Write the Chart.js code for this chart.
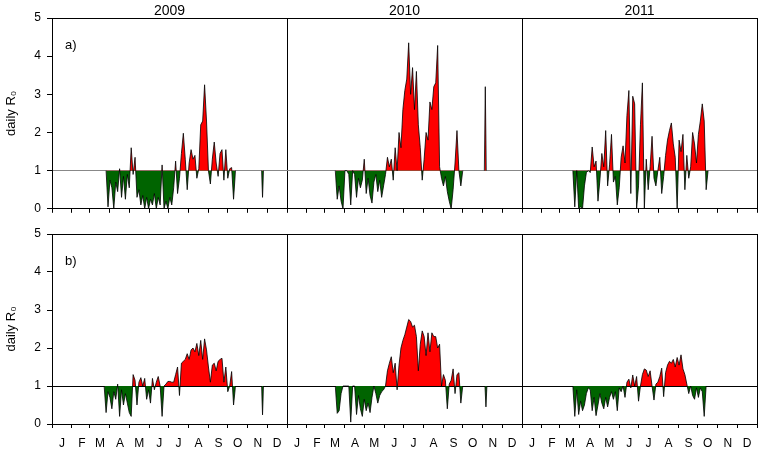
<!DOCTYPE html>
<html>
<head>
<meta charset="utf-8">
<script src="https://cdn.jsdelivr.net/npm/chart.js@4.4.0/dist/chart.umd.min.js"></script>
<style>
    html, body { margin: 0; padding: 0; background: #fff; }
    #wrap { position: relative; width: 761px; height: 450px; }
    .panel { position: absolute; left: 0; width: 761px; }
    #pa { top: 0; }
    #pb { top: 216px; }
</style>
</head>
<body>
<div id="wrap">
    <div class="panel" id="pa"><canvas id="chart-a" width="761" height="222"></canvas></div>
    <div class="panel" id="pb"><canvas id="chart-b" width="761" height="234"></canvas></div>
</div>
<script>
const years = ['2009', '2010', '2011'];
const monthLetters = ['J', 'F', 'M', 'A', 'M', 'J', 'J', 'A', 'S', 'O', 'N', 'D'];
const monthStarts = [0, 31, 59, 90, 120, 151, 181, 212, 243, 273, 304, 334];
const yearLength = 365;
const yTicks = [0, 1, 2, 3, 4, 5];
const step = 3; // one value every 3 days

// panel a) daily R0, first day of year of each season and its values
const a2009Start = 84;
const a2009 = [1.0, 0.05, 0.75, 0.55, 0.0, 0.7, 0.45, 1.05, 0.3, 0.85, 0.25, 0.9, 0.55, 1.6, 0.9, 1.35, 0.3, 0.5, 0.1, 0.35,
    0.0, 0.3, 0.0, 0.25, 0.1, 0.4, 0.0, 0.3, 0.1, 1.15, 0.0, 0.2, 0.0, 0.3, 0.1, 0.55, 1.25, 0.4, 0.8, 1.45,
    1.98, 1.3, 0.5, 1.2, 1.55, 1.3, 1.4, 0.8, 1.05, 2.2, 2.3, 3.25, 2.3, 1.0, 0.65, 1.3, 1.75, 1.2, 0.85, 1.45,
    1.55, 0.75, 1.55, 0.8, 1.05, 1.08, 0.25, 1.0];
const a2010Start = 75;
const a2010 = [1.0, 0.25, 0.6, 0.2, 0.0, 1.0, 1.0, 0.9, 0.1, 1.0, 0.9, 0.3, 0.8, 0.55, 0.75, 1.3, 0.4, 0.8, 0.35, 0.15,
    0.7, 0.9, 0.45, 0.75, 0.3, 0.6, 0.9, 1.35, 1.1, 1.3, 0.75, 1.6, 1.0, 2.0, 1.6, 2.6, 3.1, 3.4, 4.35, 3.0,
    3.7, 2.6, 3.6, 2.2, 1.6, 0.75, 1.3, 2.0, 1.8, 2.8, 2.6, 3.2, 3.3, 4.28, 1.1, 0.8, 0.6, 0.85, 0.45, 0.2,
    0.0, 0.5, 1.2, 2.05, 1.0, 0.6, 1.0];
const a2011Start = 79;
const a2011 = [1.0, 0.05, 1.0, 0.0, 0.05, 0.0, 0.6, 0.95, 1.0, 0.95, 1.62, 1.1, 1.25, 0.2, 0.75, 1.45, 1.1, 2.05, 0.6, 1.15,
    1.95, 0.7, 0.85, 0.1, 0.55, 1.35, 1.65, 1.2, 2.45, 3.1, 0.4, 2.95, 2.75, 0.0, 0.6, 2.2, 3.3, 0.0, 1.3, 0.5,
    1.1, 1.9, 0.8, 0.6, 1.0, 1.35, 0.4, 0.85, 1.4, 1.8, 2.05, 2.25, 1.7, 1.35, 0.0, 1.8, 1.5, 1.95, 0.5, 1.4,
    0.8, 1.1, 2.0, 1.7, 1.2, 1.95, 2.3, 2.75, 2.3, 0.5, 1.0];
// isolated days: [year index, day of year, value]
const aSingles = [[0, 327, 0.3], [1, 308, 3.2]];

// panel b)
const b2009Start = 81;
const b2009 = [1.0, 0.3, 0.85, 0.7, 0.4, 0.85, 0.65, 1.05, 0.2, 0.9, 0.5, 0.8, 0.55, 0.3, 0.2, 1.3, 1.15, 0.5, 1.1, 1.22,
    1.0, 1.2, 0.65, 0.9, 0.55, 1.2, 0.9, 1.1, 1.25, 1.0, 0.2, 1.0, 1.05, 1.12, 1.12, 1.1, 1.1, 1.3, 1.5, 0.75,
    1.6, 1.65, 1.7, 1.85, 1.7, 1.95, 2.0, 1.9, 2.12, 1.8, 2.2, 1.7, 2.24, 1.95, 1.5, 1.1, 1.55, 1.6, 1.4, 1.65,
    1.7, 1.73, 1.1, 1.5, 0.85, 1.0, 1.38, 0.5, 1.0];
const b2010Start = 75;
const b2010 = [1.0, 0.28, 0.35, 0.8, 1.0, 1.0, 1.0, 1.0, 0.05, 1.0, 1.0, 0.25, 0.75, 0.4, 0.2, 0.65, 0.35, 0.55, 0.3, 0.7,
    1.0, 0.8, 0.55, 0.75, 0.85, 0.9, 1.0, 1.4, 1.6, 1.77, 1.35, 1.6, 0.9, 1.55, 2.0, 2.2, 2.35, 2.55, 2.75, 2.7,
    2.55, 2.6, 2.3, 1.4, 2.1, 2.45, 2.3, 1.8, 2.4, 1.9, 2.4, 2.3, 2.3, 2.0, 2.1, 1.0, 1.3, 1.15, 0.4, 1.05,
    1.15, 1.45, 0.8, 1.3, 1.35, 0.55, 1.0];
const b2011Start = 79;
const b2011 = [1.0, 0.2, 0.9, 0.25, 0.6, 0.35, 0.5, 0.8, 0.95, 0.9, 0.35, 0.7, 0.22, 0.5, 0.8, 0.55, 0.4, 0.7, 0.45, 0.7,
    0.85, 0.65, 0.85, 0.35, 0.95, 0.85, 1.0, 0.7, 1.1, 1.18, 0.95, 1.29, 1.0, 1.25, 0.6, 1.0, 1.3, 1.45, 1.42, 1.25,
    1.4, 1.0, 0.63, 1.05, 1.1, 1.25, 1.47, 0.72, 1.35, 1.55, 1.65, 1.6, 1.7, 1.5, 1.75, 1.55, 1.82, 1.45, 1.3, 1.05,
    0.8, 1.0, 0.75, 0.65, 0.95, 0.7, 0.95, 0.85, 0.2, 1.0];
const bSingles = [[0, 327, 0.24], [1, 309, 0.45]];

const panelLabels = ['a)', 'b)'];
const yTitle = 'daily R\u2080';

Chart.defaults.font.family = '"Liberation Sans", Arial, Helvetica, sans-serif';
Chart.defaults.color = '#000';

function seasonPoints(yearIdx, start, values) {
    return values.map((v, i) => ({ x: yearIdx * yearLength + start + i * step, y: v }));
}

function singlePoints(single) {
    const x = single[0] * yearLength + single[1];
    return [{ x: x - 1.5, y: 1 }, { x: x, y: single[2] }, { x: x + 1.5, y: 1 }];
}

function makeDataset(points) {
    return {
        data: points,
        borderColor: '#000',
        borderWidth: 0.8,
        pointRadius: 0,
        tension: 0,
        fill: { target: { value: 1 }, above: '#ff0000', below: '#006400' }
    };
}

const panelLabelPlugin = {
    id: 'panelLabel',
    afterDraw(chart, args, opts) {
        const { ctx, chartArea } = chart;
        ctx.save();
        ctx.font = '13px "Liberation Sans", Arial, sans-serif';
        ctx.fillStyle = '#000';
        ctx.textBaseline = 'middle';
        ctx.fillText(opts.text, chartArea.left + 13, chartArea.top + 27);
        ctx.restore();
    }
};

function monthTicks(scale) {
    const ticks = [];
    years.forEach((y, yi) => {
        monthStarts.forEach(d => ticks.push({ value: yi * yearLength + d }));
    });
    ticks.push({ value: years.length * yearLength });
    scale.ticks = ticks;
}

function buildChart(canvasId, seasons, singles, label, showTop, showMonths, baseColor) {
    const datasets = seasons.map(s => makeDataset(seasonPoints(s[0], s[1], s[2])))
        .concat(singles.map(s => makeDataset(singlePoints(s))));

    const scales = {
        x: {
            type: 'linear',
            min: 0,
            max: years.length * yearLength,
            afterBuildTicks: monthTicks,
            afterFit: scale => {
                scale.height = showMonths ? 26 : 8;
                scale.paddingLeft = 0;
                scale.paddingRight = 4;
            },
            border: { color: '#000', width: 1 },
            grid: {
                color: ctx => (ctx.tick && ctx.tick.value % yearLength === 0) ? '#000' : 'rgba(0,0,0,0)',
                tickColor: '#000',
                tickLength: 4,
                lineWidth: 1
            },
            ticks: {
                display: showMonths,
                autoSkip: false,
                maxRotation: 0,
                minRotation: 0,
                padding: 8,
                labelOffset: 10,
                font: { size: 12 },
                callback: function (value) {
                    const d = value % yearLength;
                    if (value >= years.length * yearLength) return '';
                    return monthLetters[monthStarts.indexOf(d)];
                }
            }
        },
        y: {
            min: 0,
            max: 5,
            afterBuildTicks: scale => { scale.ticks = yTicks.map(v => ({ value: v })); },
            afterFit: scale => { scale.width = 52; },
            border: { color: '#000', width: 1 },
            grid: {
                color: ctx => {
                    if (!ctx.tick) return 'rgba(0,0,0,0)';
                    if (ctx.tick.value === 5) return '#000';
                    if (ctx.tick.value === 1) return baseColor;
                    return 'rgba(0,0,0,0)';
                },
                tickColor: '#000',
                tickLength: 5
            },
            ticks: { padding: 6, font: { size: 12 } },
            title: { display: true, text: yTitle, font: { size: 13 }, padding: { top: 4, bottom: 0 } }
        }
    };

    if (showTop) {
        scales.x2 = {
            type: 'linear',
            position: 'top',
            min: 0,
            max: years.length * yearLength,
            afterBuildTicks: scale => {
                scale.ticks = years.map((y, i) => ({ value: i * yearLength + yearLength / 2 }));
            },
            afterFit: scale => {
                scale.height = 18;
                scale.paddingLeft = 0;
                scale.paddingRight = 4;
            },
            border: { display: false },
            grid: { display: false, drawTicks: false },
            ticks: {
                autoSkip: false,
                maxRotation: 0,
                padding: 0,
                font: { size: 14, lineHeight: 1.0 },
                callback: (value, index) => years[index]
            }
        };
    }

    return new Chart(document.getElementById(canvasId).getContext('2d'), {
        type: 'line',
        data: { datasets: datasets },
        options: {
            responsive: false,
            animation: false,
            layout: { padding: { top: showTop ? 0 : 18, right: 0, left: 0, bottom: 0 } },
            scales: scales,
            plugins: {
                legend: { display: false },
                tooltip: { enabled: false },
                panelLabel: { text: label }
            }
        },
        plugins: [panelLabelPlugin]
    });
}

buildChart('chart-a',
    [[0, a2009Start, a2009], [1, a2010Start, a2010], [2, a2011Start, a2011]],
    aSingles, panelLabels[0], true, false, '#888');

buildChart('chart-b',
    [[0, b2009Start, b2009], [1, b2010Start, b2010], [2, b2011Start, b2011]],
    bSingles, panelLabels[1], false, true, '#000');
</script>
</body>
</html>
